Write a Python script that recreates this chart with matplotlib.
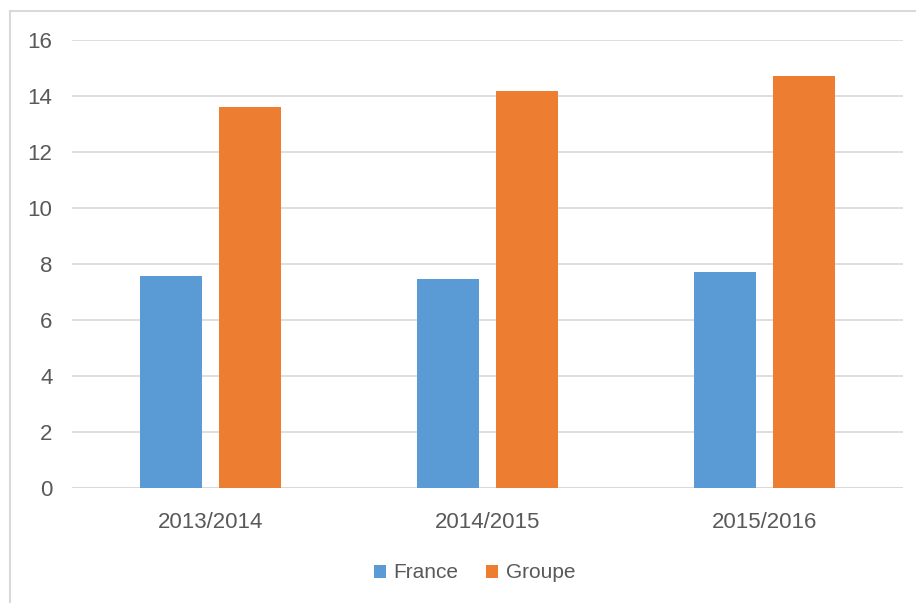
import matplotlib.pyplot as plt
import numpy as np

categories = ["2013/2014", "2014/2015", "2015/2016"]
france = [7.57, 7.46, 7.71]
groupe = [13.61, 14.18, 14.71]

plt.rcParams["font.family"] = ["Liberation Sans", "DejaVu Sans"]
grey = "#595959"

fig = plt.figure(figsize=(9.16, 6.03), dpi=100)
ax = fig.add_axes([72 / 916, 1 - 488 / 603, 831 / 916, 448 / 603])

x = np.arange(len(categories))
w = 0.224
ax.bar(x - 0.141, france, w, color="#5B9BD5", label="France", zorder=3)
ax.bar(x + 0.141, groupe, w, color="#ED7D31", label="Groupe", zorder=3)

ax.set_xlim(-0.5, 2.5)
ax.set_ylim(0, 16)
ax.set_yticks(range(0, 17, 2))
ax.set_xticks(x)
ax.set_xticklabels(categories)
ax.grid(axis="y", color="#d9d9d9", linewidth=1.2, zorder=0)
ax.axhline(0, color="#d9d9d9", linewidth=2, zorder=2)
ax.tick_params(axis="y", length=0, pad=14, labelsize=16, labelcolor=grey)
ax.tick_params(axis="x", length=0, pad=17, labelsize=16, labelcolor=grey)
for s in ax.spines.values():
    s.set_visible(False)

# chart border, only left and top edges fall inside the picture
fig.add_artist(plt.Line2D([9.5 / 916, 9.5 / 916], [0, 1 - 11 / 603], transform=fig.transFigure, color="#d9d9d9", lw=1.5))
fig.add_artist(plt.Line2D([9.5 / 916, 1], [1 - 11 / 603, 1 - 11 / 603], transform=fig.transFigure, color="#d9d9d9", lw=1.5))

leg = fig.legend(loc="center", bbox_to_anchor=(474.5 / 916, 1 - 573 / 603), ncol=2, frameon=False,
                 fontsize=15, handlelength=0.6, handleheight=0.6, handletextpad=0.35, columnspacing=1.3)
for t in leg.get_texts():
    t.set_color(grey)

fig.savefig("out.png", dpi=100)
